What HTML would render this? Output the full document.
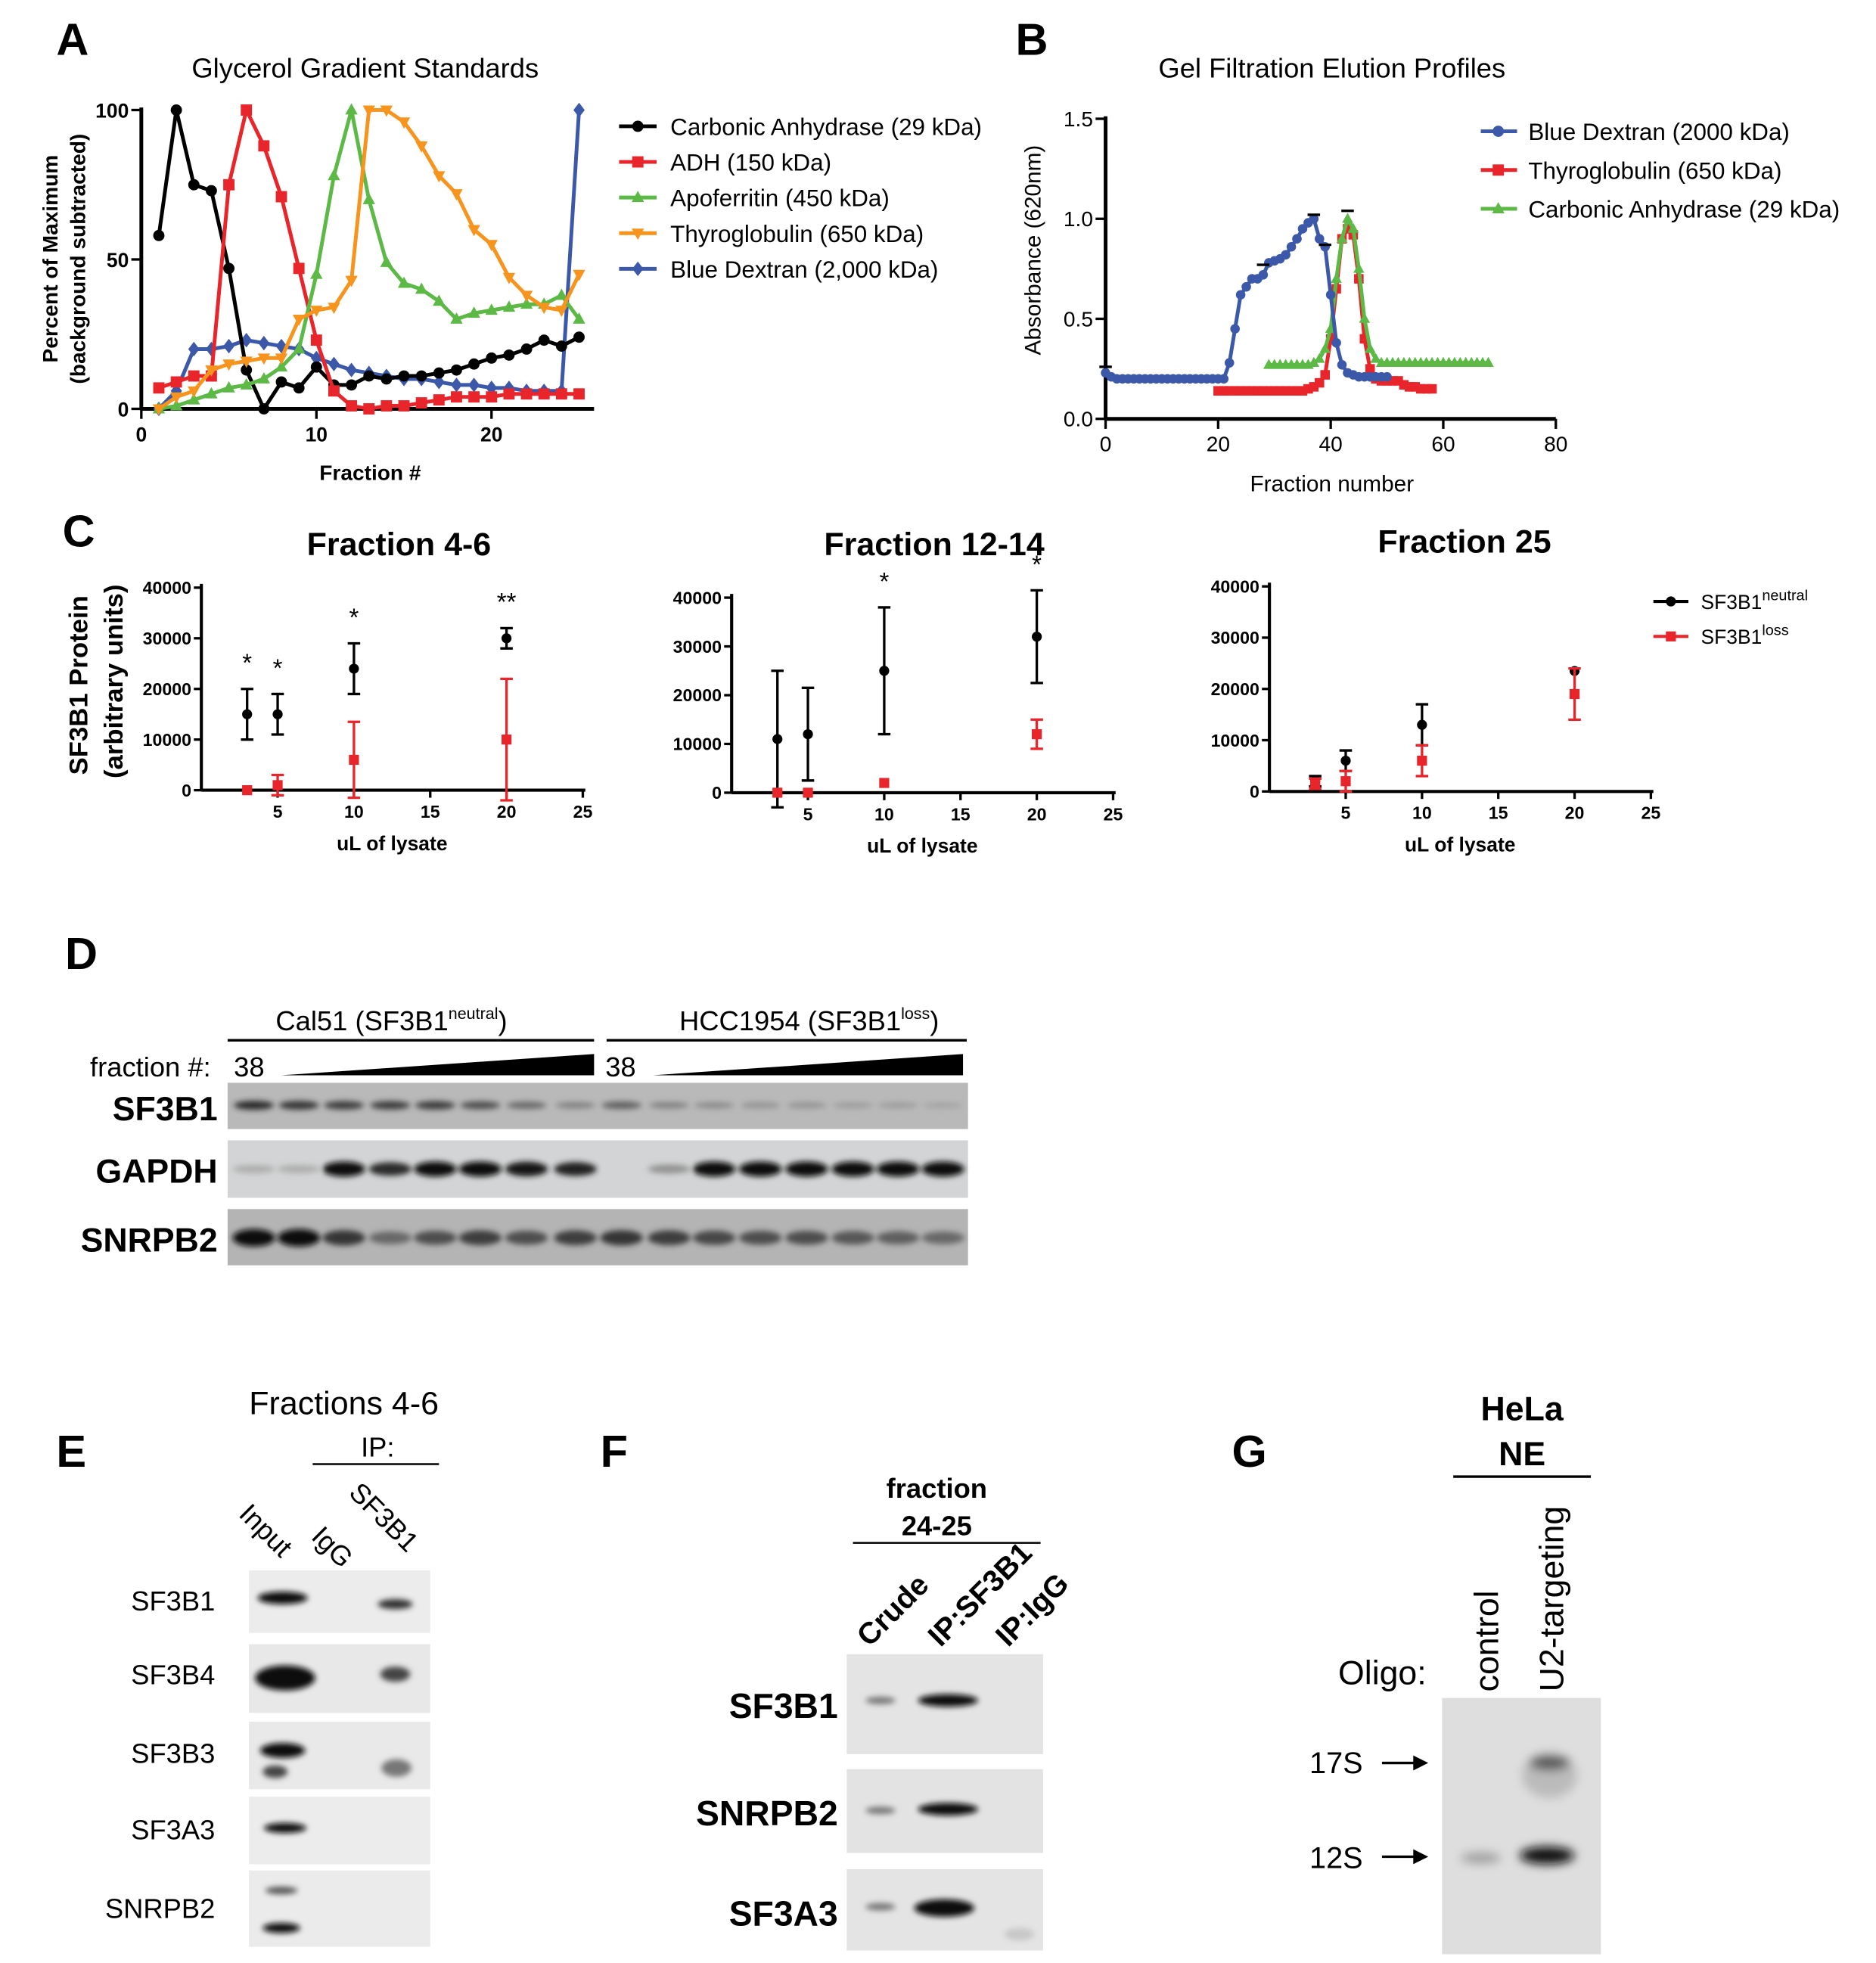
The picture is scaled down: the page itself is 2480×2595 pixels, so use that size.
<!DOCTYPE html>
<html><head><meta charset="utf-8"><style>
html,body{margin:0;padding:0;background:#fff;}
svg{display:block;font-family:"Liberation Sans",sans-serif;}
</style></head><body>
<svg id="fig" width="2480" height="2595" viewBox="0 0 1500 1570" preserveAspectRatio="none" xmlns="http://www.w3.org/2000/svg">
<defs>
<filter id="bl" x="-50%" y="-100%" width="200%" height="300%"><feGaussianBlur stdDeviation="2.2"/></filter>
<filter id="bl2" x="-50%" y="-100%" width="200%" height="300%"><feGaussianBlur stdDeviation="4"/></filter>
</defs>
<g id="static" font-family="Liberation Sans, sans-serif">
<!-- panel letters -->
<text x="45" y="44" font-size="36" font-weight="bold">A</text>
<text x="812" y="44" font-size="36" font-weight="bold">B</text>
<text x="50" y="437" font-size="36" font-weight="bold">C</text>
<text x="52" y="775" font-size="36" font-weight="bold">D</text>
<text x="45" y="1173" font-size="36" font-weight="bold">E</text>
<text x="480" y="1173" font-size="36" font-weight="bold">F</text>
<text x="985" y="1173" font-size="36" font-weight="bold">G</text>

<text x="292" y="62" font-size="22" text-anchor="middle">Glycerol Gradient Standards</text>
<text x="1065" y="62" font-size="22" text-anchor="middle">Gel Filtration Elution Profiles</text>

<!-- Panel D -->
<g>
<text x="313" y="824" font-size="22" text-anchor="middle">Cal51 (SF3B1<tspan font-size="13" dy="-9">neutral</tspan><tspan dy="9">)</tspan></text>
<line x1="182" y1="832" x2="475" y2="832" stroke="#000" stroke-width="2"/>
<text x="647" y="824" font-size="22" text-anchor="middle">HCC1954 (SF3B1<tspan font-size="13" dy="-9">loss</tspan><tspan dy="9">)</tspan></text>
<line x1="485" y1="832" x2="773" y2="832" stroke="#000" stroke-width="2"/>
<text x="72" y="861" font-size="22">fraction #:</text>
<text x="187" y="861" font-size="22">38</text>
<text x="484" y="861" font-size="22">38</text>
<polygon points="225,860 475,843 475,860" fill="#000"/>
<polygon points="522,860 770,843 770,860" fill="#000"/>
<text x="174" y="896" font-size="27" font-weight="bold" text-anchor="end">SF3B1</text>
<text x="174" y="946" font-size="27" font-weight="bold" text-anchor="end">GAPDH</text>
<text x="174" y="1001" font-size="27" font-weight="bold" text-anchor="end">SNRPB2</text>
<rect x="182" y="866" width="592" height="37" fill="#b9b9b9"/>
<rect x="182" y="912" width="592" height="46" fill="#d3d4d5"/>
<rect x="182" y="967" width="592" height="45" fill="#b4b4b4"/>
<g id="dbands" filter="url(#bl)"></g>
</g>

<!-- Panel E -->
<g>
<text x="275" y="1131" font-size="26" text-anchor="middle">Fractions 4-6</text>
<text x="302" y="1165" font-size="22" text-anchor="middle">IP:</text>
<line x1="250" y1="1171" x2="351" y2="1171" stroke="#000" stroke-width="1.5"/>
<text transform="translate(190,1212) rotate(45)" font-size="22">Input</text>
<text transform="translate(248,1230) rotate(45)" font-size="22">IgG</text>
<text transform="translate(278,1195) rotate(45)" font-size="22">SF3B1</text>
<text x="172" y="1288" font-size="22" text-anchor="end">SF3B1</text>
<text x="172" y="1347" font-size="22" text-anchor="end">SF3B4</text>
<text x="172" y="1410" font-size="22" text-anchor="end">SF3B3</text>
<text x="172" y="1471" font-size="22" text-anchor="end">SF3A3</text>
<text x="172" y="1534" font-size="22" text-anchor="end">SNRPB2</text>
<rect x="199" y="1256" width="145" height="50" fill="#ececec"/>
<rect x="199" y="1315" width="145" height="55" fill="#e8e8e8"/>
<rect x="199" y="1377" width="145" height="54" fill="#e9e9e9"/>
<rect x="199" y="1437" width="145" height="54" fill="#ececec"/>
<rect x="199" y="1496" width="145" height="61" fill="#ebebeb"/>
<g filter="url(#bl)" fill="#111">
<ellipse cx="226" cy="1278" rx="20" ry="5"/>
<ellipse cx="316" cy="1283" rx="14" ry="4" fill="#333"/>
<ellipse cx="228" cy="1342" rx="24" ry="10"/>
<ellipse cx="316" cy="1339" rx="12" ry="6" fill="#444"/>
<ellipse cx="226" cy="1400" rx="18" ry="6"/>
<ellipse cx="220" cy="1417" rx="10" ry="5" fill="#444"/>
<ellipse cx="317" cy="1414" rx="12" ry="7" fill="#777"/>
<ellipse cx="228" cy="1462" rx="17" ry="4"/>
<ellipse cx="225" cy="1512" rx="13" ry="3" fill="#555"/>
<ellipse cx="225" cy="1542" rx="15" ry="4"/>
</g>
</g>

<!-- Panel F -->
<g>
<text x="749" y="1198" font-size="22" font-weight="bold" text-anchor="middle">fraction</text>
<text x="749" y="1228" font-size="22" font-weight="bold" text-anchor="middle">24-25</text>
<line x1="682" y1="1234" x2="832" y2="1234" stroke="#000" stroke-width="1.5"/>
<text transform="translate(695,1318) rotate(-45)" font-size="24" font-weight="bold">Crude</text>
<text transform="translate(752,1318) rotate(-45)" font-size="24" font-weight="bold">IP:SF3B1</text>
<text transform="translate(806,1318) rotate(-45)" font-size="24" font-weight="bold">IP:IgG</text>
<text x="670" y="1374" font-size="28" font-weight="bold" text-anchor="end">SF3B1</text>
<text x="670" y="1460" font-size="28" font-weight="bold" text-anchor="end">SNRPB2</text>
<text x="670" y="1540" font-size="28" font-weight="bold" text-anchor="end">SF3A3</text>
<rect x="677" y="1323" width="157" height="80" fill="#e4e4e4"/>
<rect x="677" y="1415" width="157" height="67" fill="#e3e3e3"/>
<rect x="677" y="1495" width="157" height="65" fill="#e4e4e4"/>
<g filter="url(#bl)" fill="#111">
<ellipse cx="704" cy="1360" rx="12" ry="3" fill="#777"/>
<ellipse cx="758" cy="1360" rx="24" ry="5"/>
<ellipse cx="704" cy="1448" rx="12" ry="3" fill="#777"/>
<ellipse cx="758" cy="1447" rx="24" ry="5"/>
<ellipse cx="704" cy="1525" rx="12" ry="3" fill="#777"/>
<ellipse cx="755" cy="1526" rx="24" ry="7"/>
<ellipse cx="815" cy="1547" rx="12" ry="5" fill="#c8c8c8"/>
</g>
</g>

<!-- Panel G -->
<g>
<text x="1217" y="1136" font-size="27" font-weight="bold" text-anchor="middle">HeLa</text>
<text x="1217" y="1172" font-size="27" font-weight="bold" text-anchor="middle">NE</text>
<line x1="1162" y1="1181" x2="1272" y2="1181" stroke="#000" stroke-width="2"/>
<text transform="translate(1198,1353) rotate(-90)" font-size="27">control</text>
<text transform="translate(1250,1353) rotate(-90)" font-size="27">U2-targeting</text>
<text x="1070" y="1347" font-size="27">Oligo:</text>
<text x="1047" y="1418" font-size="24">17S</text>
<text x="1047" y="1494" font-size="24">12S</text>
<line x1="1105" y1="1410" x2="1132" y2="1410" stroke="#000" stroke-width="2"/><polygon points="1142,1410 1130,1404 1130,1416" fill="#000"/>
<line x1="1105" y1="1485" x2="1132" y2="1485" stroke="#000" stroke-width="2"/><polygon points="1142,1485 1130,1479 1130,1491" fill="#000"/>
<rect x="1153" y="1358" width="127" height="205" fill="#dedede"/>
<g filter="url(#bl2)">
<ellipse cx="1239" cy="1420" rx="22" ry="18" fill="#bbb"/>
<ellipse cx="1239" cy="1410" rx="16" ry="6" fill="#555"/>
<ellipse cx="1184" cy="1486" rx="16" ry="4" fill="#999"/>
<ellipse cx="1237" cy="1484" rx="22" ry="7" fill="#111"/>
</g>
</g>
</g>
<g id="charts"></g>
</svg>
<script>
// ---------- Panel A data ----------
const aFractions = [1,2,3,4,5,6,7,8,9,10,11,12,13,14,15,16,17,18,19,20,21,22,23,24,25];
const aCarbonic = [58,100,75,73,47,13,0,9,7,14,8,8,11,10,11,11,12,13,15,17,18,20,23,21,24];
const aADH = [7,9,11,11,75,100,88,71,47,23,6,1,0,1,1,2,3,4,4,4,5,5,5,5,5];
const aApoferritin = [0,1,3,5,7,8,10,14,20,45,78,100,70,49,42,40,36,30,32,33,34,35,35,38,30];
const aThyro = [0,4,6,13,15,16,17,17,30,33,34,43,100,100,96,88,78,72,60,55,44,38,34,33,45];
const aBlueDex = [0,6,20,20,21,23,22,21,20,17,15,13,12,11,10,10,9,8,8,7,7,6,6,6,100];
const aLabels = ["Carbonic Anhydrase (29 kDa)","ADH (150 kDa)","Apoferritin (450 kDa)","Thyroglobulin (650 kDa)","Blue Dextran (2,000 kDa)"];
const aXTicks = [0,10,20];
const aYTicks = [0,50,100];
// ---------- Panel B data ----------
const bBlueX = [0,1,2,3,4,5,6,7,8,9,10,11,12,13,14,15,16,17,18,19,20,21,22,23,24,25,26,27,28,29,30,31,32,33,34,35,36,37,38,39,40,41,42,43,44,45,46,47,48,49,50];
const bBlueY = [0.23,0.21,0.2,0.2,0.2,0.2,0.2,0.2,0.2,0.2,0.2,0.2,0.2,0.2,0.2,0.2,0.2,0.2,0.2,0.2,0.2,0.2,0.28,0.45,0.62,0.66,0.7,0.7,0.72,0.78,0.79,0.8,0.82,0.86,0.9,0.95,0.98,1.0,0.9,0.86,0.62,0.38,0.27,0.23,0.22,0.21,0.21,0.21,0.21,0.21,0.21];
const bThyroX = [20,21,22,23,24,25,26,27,28,29,30,31,32,33,34,35,36,37,38,39,40,41,42,43,44,45,46,47,48,49,50,51,52,53,54,55,56,57,58];
const bThyroY = [0.14,0.14,0.14,0.14,0.14,0.14,0.14,0.14,0.14,0.14,0.14,0.14,0.14,0.14,0.14,0.14,0.15,0.16,0.18,0.22,0.4,0.65,0.9,0.95,0.92,0.7,0.4,0.25,0.2,0.19,0.19,0.19,0.19,0.17,0.16,0.16,0.15,0.15,0.15];
const bCarbX = [29,30,31,32,33,34,35,36,37,38,39,40,41,42,43,44,45,46,47,48,49,50,51,52,53,54,55,56,57,58,59,60,61,62,63,64,65,66,67,68];
const bCarbY = [0.27,0.27,0.27,0.27,0.27,0.27,0.27,0.27,0.28,0.3,0.35,0.45,0.7,0.9,1.0,0.95,0.75,0.5,0.35,0.3,0.28,0.28,0.28,0.28,0.28,0.28,0.28,0.28,0.28,0.28,0.28,0.28,0.28,0.28,0.28,0.28,0.28,0.28,0.28,0.28];
const bLabels = ["Blue Dextran (2000 kDa)","Thyroglobulin (650 kDa)","Carbonic Anhydrase (29 kDa)"];
const bXTicks = [0,20,40,60,80];
const bYTicks = [0,0.5,1.0,1.5];
// ---------- Panel C data ----------
const cVolumes = [3,5,10,20];
const c1Neutral = [15000,15000,24000,30000];
const c1NeutralErr = [5000,4000,5000,2000];
const c1Loss = [0,1000,6000,10000];
const c1LossErr = [0,2000,7500,12000];
const c1Stars = ["*","*","*","**"];
const c2Neutral = [11000,12000,25000,32000];
const c2NeutralErr = [14000,9500,13000,9500];
const c2Loss = [0,0,2000,12000];
const c2LossErr = [0,0,0,3000];
const c2Stars = ["","","*","*"];
const c3Neutral = [2000,6000,13000,23500];
const c3NeutralErr = [1000,2000,4000,0];
const c3Loss = [1500,2000,6000,19000];
const c3LossErr = [1000,2000,3000,5000];
const c3Stars = ["","","",""];
const cXTicks = [5,10,15,20,25];
const cYTicks = [0,10000,20000,30000,40000];
// ---------- Panel D band intensities (0..1) ----------
const dSF3B1 = [0.8,0.75,0.7,0.7,0.7,0.6,0.45,0.3,0.5,0.3,0.25,0.2,0.2,0.15,0.15,0.1];
const dGAPDH = [0.05,0.05,1,0.8,1,1,0.95,0.85,0,0.2,1,1,1,1,1,1];
const dSNRPB2 = [1,1,0.75,0.45,0.6,0.7,0.6,0.7,0.75,0.7,0.65,0.6,0.6,0.55,0.5,0.45];

const NS = "http://www.w3.org/2000/svg";
const root = document.getElementById('charts');
function el(tag, parent){ const e = document.createElementNS(NS, tag); (parent||root).appendChild(e); return e; }
function line(p,x1,y1,x2,y2,c,w){ const l=el('line',p); l.setAttribute('x1',x1);l.setAttribute('y1',y1);l.setAttribute('x2',x2);l.setAttribute('y2',y2);l.setAttribute('stroke',c);l.setAttribute('stroke-width',w); return l; }
function text(p,x,y,s,size,anchor,weight){ const t=el('text',p); t.setAttribute('x',x);t.setAttribute('y',y);t.setAttribute('font-size',size);t.setAttribute('text-anchor',anchor||'start'); if(weight) t.setAttribute('font-weight',weight); t.textContent=s; return t; }
function marker(p,shape,x,y,r,c){
  let m;
  if(shape==='circle'){ m=el('circle',p); m.setAttribute('cx',x); m.setAttribute('cy',y); m.setAttribute('r',r); }
  else { m=el('polygon',p); let pts;
    if(shape==='square') pts=[[x-r,y-r],[x+r,y-r],[x+r,y+r],[x-r,y+r]];
    else if(shape==='up') pts=[[x,y-r*1.2],[x+r*1.1,y+r*0.8],[x-r*1.1,y+r*0.8]];
    else if(shape==='down') pts=[[x,y+r*1.2],[x+r*1.1,y-r*0.8],[x-r*1.1,y-r*0.8]];
    else pts=[[x,y-r*1.3],[x+r,y],[x,y+r*1.3],[x-r,y]];
    m.setAttribute('points',pts.map(q=>q.join(',')).join(' ')); }
  m.setAttribute('fill',c); return m;
}
function series(p,xs,ys,sx,sy,c,shape,r,name){
  const g=el('g',p);
  
  
  const pl=el('polyline',g); pl.setAttribute('points',xs.map((x,i)=>sx(x)+','+sy(ys[i])).join(' '));
  pl.setAttribute('fill','none'); pl.setAttribute('stroke',c); pl.setAttribute('stroke-width',3);
  xs.forEach((x,i)=>{ const m=marker(g,shape,sx(x),sy(ys[i]),r,c);
    
     });
}

// ---------- Chart A ----------
(function(){
  const g=el('g');  
  const sx=v=>113+v*14, sy=v=>327-v*2.39;
  const colors=['#000','#e8252a','#5cb946','#f7941e','#3c58a8'], shapes=['circle','square','up','down','diamond'];
  const data=[aCarbonic,aADH,aApoferritin,aThyro,aBlueDex];
  line(g,113,86,113,327,'#000',3); line(g,113,327,475,327,'#000',3);
  aYTicks.forEach(v=>{ line(g,105,sy(v),113,sy(v),'#000',2); const t=text(g,103,sy(v)+6,String(v),16,'end','bold');   });
  aXTicks.forEach(v=>{ line(g,sx(v),327,sx(v),335,'#000',2); const t=text(g,sx(v),353,String(v),16,'middle','bold');   });
  const xt=text(g,296,384,'Fraction #',17,'middle','bold');  
  const y1=text(g,0,0,'Percent of Maximum',17,'middle','bold'); y1.setAttribute('transform','translate(46,207) rotate(-90)');
   
  const y2=text(g,0,0,'(background subtracted)',17,'middle','bold'); y2.setAttribute('transform','translate(68,207) rotate(-90)');
   
  const order=[4,0,1,2,3];
  order.forEach(i=>series(g,aFractions,data[i],sx,sy,colors[i],shapes[i],4.5,'a-series-'+i));
  aLabels.forEach((s,i)=>{ const y=101+i*28.5; const lg=el('g',g);
     
    line(lg,495,y,525,y,colors[i],3); marker(lg,shapes[i],510,y,4.5,colors[i]); text(lg,536,y+7,s,19,'start'); });
})();

// ---------- Chart B ----------
(function(){
  const g=el('g');  
  const sx=v=>884+v*4.5, sy=v=>335-v*160;
  line(g,884,93,884,335,'#000',3); line(g,884,335,1244,335,'#000',3);
  bYTicks.forEach(v=>{ line(g,876,sy(v),884,sy(v),'#000',2); const t=text(g,874,sy(v)+6,v.toFixed(1),17,'end');   });
  bXTicks.forEach(v=>{ line(g,sx(v),335,sx(v),343,'#000',2); const t=text(g,sx(v),361,String(v),17,'middle');   });
  const xt=text(g,1065,393,'Fraction number',18,'middle');  
  const yt=text(g,0,0,'Absorbance (620nm)',18,'middle'); yt.setAttribute('transform','translate(832,200) rotate(-90)');
   
  series(g,bThyroX,bThyroY,sx,sy,'#e8252a','square',3.8,'b-series-thyroglobulin');
  series(g,bCarbX,bCarbY,sx,sy,'#5cb946','up',4,'b-series-carbonic');
  series(g,bBlueX,bBlueY,sx,sy,'#3c58a8','circle',3.8,'b-series-blue-dextran');
  [[0,0.26],[28,0.77],[37,1.02],[43,1.04],[39,0.87]].forEach(p=>line(g,sx(p[0])-5,sy(p[1]),sx(p[0])+5,sy(p[1]),'#000',2));
  const cs=['#3c58a8','#e8252a','#5cb946'], sh=['circle','square','up'];
  bLabels.forEach((s,i)=>{ const y=105+i*31; const lg=el('g',g);
     
    line(lg,1184,y,1213,y,cs[i],3); marker(lg,sh[i],1198,y,4.5,cs[i]); text(lg,1222,y+7,s,19,'start'); });
})();

// ---------- Chart C ----------
function cChart(name,x0,y0,yTop,title,tx,ty,neu,neuE,los,losE,stars){
  const g=el('g');  
  const sx=v=>x0+v*12.2, sy=v=>y0-v*(y0-yTop)/40000;
  line(g,x0,yTop-3,x0,y0,'#000',2.5); line(g,x0,y0,sx(25)+2,y0,'#000',2.5);
  cYTicks.forEach(v=>{ line(g,x0-6,sy(v),x0,sy(v),'#000',2); const t=text(g,x0-8,sy(v)+5,String(v),14,'end','bold');   });
  cXTicks.forEach(v=>{ line(g,sx(v),y0,sx(v),y0+6,'#000',2); const t=text(g,sx(v),y0+22,String(v),14,'middle','bold');   });
  const xt=text(g,sx(12.5),y0+48,'uL of lysate',16,'middle','bold');  
  const tt=text(g,tx,ty,title,26,'middle','bold');  
  function pts(vals,errs,c,shape,nm){
    vals.forEach((v,i)=>{ const x=sx(cVolumes[i]); const pg=el('g',g);
      
      
      if(errs[i]>0){ line(pg,x,sy(v-errs[i]),x,sy(v+errs[i]),c,2); line(pg,x-5,sy(v-errs[i]),x+5,sy(v-errs[i]),c,2); line(pg,x-5,sy(v+errs[i]),x+5,sy(v+errs[i]),c,2); }
      marker(pg,shape,x,sy(v),4,c); });
  }
  pts(neu,neuE,'#000','circle','c-neutral-point');
  pts(los,losE,'#e8252a','square','c-loss-point');
  stars.forEach((s,i)=>{ if(s){ const t=text(g,sx(cVolumes[i]),sy(neu[i]+neuE[i])-14,s,20,'middle');   }});
  return g;
}
cChart('chart-c1',161,632,470,'Fraction 4-6',319,444,c1Neutral,c1NeutralErr,c1Loss,c1LossErr,c1Stars);
cChart('chart-c2',585,634,478,'Fraction 12-14',747,444,c2Neutral,c2NeutralErr,c2Loss,c2LossErr,c2Stars);
cChart('chart-c3',1015,633,469,'Fraction 25',1171,442,c3Neutral,c3NeutralErr,c3Loss,c3LossErr,c3Stars);
(function(){
  const g=el('g');  
  const yt=text(g,0,0,'SF3B1 Protein',21,'middle','bold'); yt.setAttribute('transform','translate(70,548) rotate(-90)');
   
  const yt2=text(g,0,0,'(arbitrary units)',21,'middle','bold'); yt2.setAttribute('transform','translate(98,545) rotate(-90)');
   
  line(g,1322,481,1350,481,'#000',2.5); marker(g,'circle',1336,481,4,'#000');
  const t1=text(g,1360,487,'SF3B1',16); const s1=el('tspan',t1); s1.setAttribute('font-size','12'); s1.setAttribute('dy','-7'); s1.textContent='neutral';
   
  line(g,1322,509,1350,509,'#e8252a',2.5); marker(g,'square',1336,509,4,'#e8252a');
  const t2=text(g,1360,515,'SF3B1',16); const s2=el('tspan',t2); s2.setAttribute('font-size','12'); s2.setAttribute('dy','-7'); s2.textContent='loss';
   
})();

// ---------- Panel D bands ----------
(function(){
  const g=document.getElementById('dbands');
  const lanes=[203,239,275,312,348,384,421,460,497,535,571,608,645,682,718,754];
  function row(vals,cy,ry,rx){ vals.forEach((v,i)=>{ if(v<=0) return; const e=el('ellipse',g);
    e.setAttribute('cx',lanes[i]); e.setAttribute('cy',cy); e.setAttribute('rx',rx); e.setAttribute('ry',ry*(0.5+v*0.5));
    const k=Math.round(180-170*v); e.setAttribute('fill','rgb('+k+','+k+','+k+')');
    
     }); }
  row(dSF3B1,884,4,16); row(dGAPDH,935,6,17); row(dSNRPB2,990,7,17);
})();
</script>
</body></html>
